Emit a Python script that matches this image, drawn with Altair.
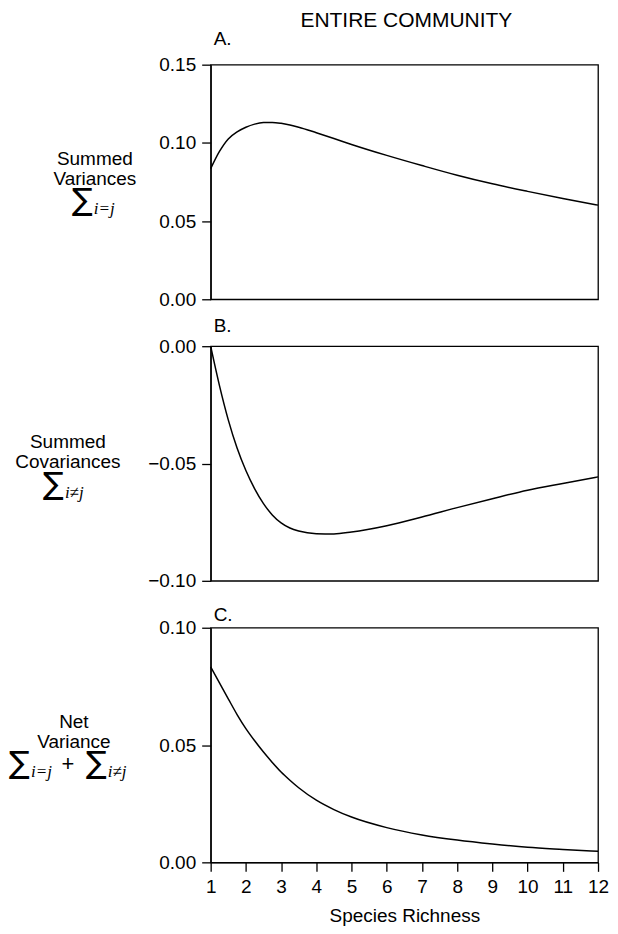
import altair as alt
import pandas as pd

# Species richness sample points
richness = [1, 1.25, 1.5, 1.75, 2, 2.25, 2.5, 2.75, 3, 3.25, 3.5, 4, 4.5, 5, 6, 7, 8, 9, 10, 11, 12]
summed_variances = [0.0835, 0.0945, 0.1025, 0.1070, 0.1100, 0.1120, 0.1130, 0.1131, 0.1125, 0.1114,
                    0.1100, 0.1065, 0.1028, 0.0990, 0.0920, 0.0855, 0.0793, 0.0738, 0.0690,
                    0.0645, 0.0602]
summed_covariances = [0.0, -0.0168, -0.0314, -0.0434, -0.0530, -0.0608, -0.0671, -0.0719, -0.0753,
                      -0.0775, -0.0788, -0.0799, -0.0800, -0.0792, -0.0765, -0.0728, -0.0688,
                      -0.0650, -0.0614, -0.0585, -0.0557]
net_variance = [0.0833, 0.0765, 0.0697, 0.0630, 0.0570, 0.0518, 0.0470, 0.0426, 0.0385, 0.0350,
                0.0318, 0.0265, 0.0225, 0.0193, 0.0148, 0.0117, 0.0095, 0.0078, 0.0064,
                0.0055, 0.0047]

x_ticks = [1, 2, 3, 4, 5, 6, 7, 8, 9, 10, 11, 12]
a_ticks = [0.0, 0.05, 0.10, 0.15]
b_ticks = [-0.10, -0.05, 0.0]
c_ticks = [0.0, 0.05, 0.10]

W, H = 388, 235
FONT = "Liberation Sans"
dummy = pd.DataFrame({"d": [0]})


def txt(s, x, y, size=19, align="center", font=FONT, style="normal", baseline="alphabetic"):
    return alt.Chart(dummy).mark_text(
        text=s, align=align, baseline=baseline, fontSize=size, font=font,
        fontStyle=style, color="black"
    ).encode(x=alt.value(x), y=alt.value(y))


def sigma(x_right, y, sub):
    return [
        txt("\u2211", x_right, y, size=31, align="right", font="DejaVu Sans"),
        txt(sub, x_right + 1, y + 4, size=17, align="left", font="Liberation Serif", style="italic"),
    ]


def panel(values, ydomain, yticks, show_x):
    df = pd.DataFrame({"n": richness, "v": values})
    if show_x:
        xaxis = alt.Axis(values=x_ticks, format="d", title="Species Richness", labelFlush=False,
                         titleFont=FONT, titleFontSize=19, titleFontWeight="normal",
                         titlePadding=10, labelPadding=6)
    else:
        xaxis = None
    return alt.Chart(df).mark_line(color="black", strokeWidth=1.5, interpolate="monotone").encode(
        x=alt.X("n:Q", scale=alt.Scale(domain=[1, 12], nice=False, zero=False), axis=xaxis),
        y=alt.Y("v:Q", scale=alt.Scale(domain=ydomain, nice=False, zero=False),
                axis=alt.Axis(values=yticks, format=".2f", title=None, labelPadding=6)),
    )


pA = alt.layer(
    panel(summed_variances, [0, 0.15], a_ticks, False),
    txt("ENTIRE COMMUNITY", 196, -38, size=21),
    txt("A.", 3, -20, size=19, align="left"),
    txt("Summed", -116, 100),
    txt("Variances", -116, 121),
    *sigma(-118, 146, "i=j"),
).properties(width=W, height=H)

pB = alt.layer(
    panel(summed_covariances, [-0.10, 0.0], b_ticks, False),
    txt("B.", 3, -14, size=19, align="left"),
    txt("Summed", -143, 102),
    txt("Covariances", -143, 122),
    *sigma(-147, 148, "i\u2260j"),
).properties(width=W, height=H)

pC = alt.layer(
    panel(net_variance, [0, 0.10], c_ticks, True),
    txt("C.", 3, -7, size=19, align="left"),
    txt("Net", -137, 100),
    txt("Variance", -137, 120),
    *sigma(-181, 146, "i=j"),
    txt("+", -143, 144, size=22),
    *sigma(-104, 146, "i\u2260j"),
).properties(width=W, height=H)

chart = alt.vconcat(pA, pB, pC, spacing=47, bounds="flush").configure_view(
    stroke="black", strokeWidth=1.3
).configure_axis(
    domainColor="black", tickColor="black", labelColor="black", titleColor="black",
    labelFont=FONT, labelFontSize=19, grid=False, tickSize=9, domainWidth=1.3, tickWidth=1.3,
).properties(padding={"left": 0, "top": 0, "right": 0, "bottom": 0})

chart.save("out.html", embed_options={"renderer": "svg", "actions": False})
